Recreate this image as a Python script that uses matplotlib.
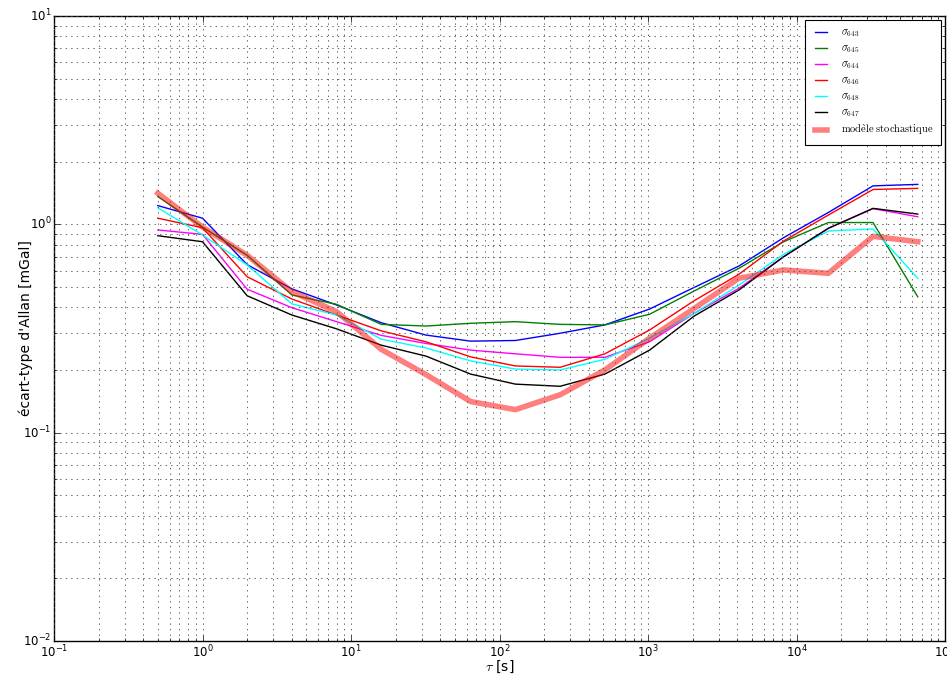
import numpy as np
import matplotlib
matplotlib.use("Agg")
import matplotlib.pyplot as plt

plt.style.use('classic')
plt.rcParams['mathtext.fontset'] = 'cm'

tau = [0.5, 1, 2, 4, 8, 16, 32, 64, 128, 256, 512, 1024, 2048, 4096, 8192, 16384, 32768, 65536]

s643 = [1.23, 1.07, 0.64, 0.49, 0.41, 0.337, 0.294, 0.275, 0.277, 0.300, 0.329, 0.392, 0.498, 0.631, 0.863, 1.14, 1.53, 1.555]
s645 = [1.36, 0.97, 0.71, 0.458, 0.413, 0.331, 0.325, 0.335, 0.341, 0.331, 0.329, 0.370, 0.479, 0.615, 0.825, 1.02, 1.02, 0.449]
s644 = [0.94, 0.895, 0.488, 0.398, 0.341, 0.293, 0.268, 0.249, 0.239, 0.230, 0.230, 0.273, 0.374, 0.493, 0.699, 0.957, 1.19, 1.087]
s646 = [1.07, 0.963, 0.56, 0.438, 0.367, 0.308, 0.273, 0.231, 0.209, 0.206, 0.239, 0.311, 0.43, 0.576, 0.832, 1.108, 1.47, 1.488]
s648 = [1.20, 0.889, 0.638, 0.415, 0.367, 0.281, 0.255, 0.221, 0.202, 0.200, 0.225, 0.284, 0.374, 0.511, 0.718, 0.929, 0.95, 0.551]
s647 = [0.882, 0.825, 0.454, 0.367, 0.315, 0.263, 0.233, 0.191, 0.171, 0.167, 0.191, 0.249, 0.363, 0.484, 0.699, 0.957, 1.193, 1.12]
model = [1.41, 0.97, 0.71, 0.475, 0.381, 0.251, 0.19, 0.141, 0.129, 0.152, 0.20, 0.284, 0.395, 0.551, 0.604, 0.582, 0.876, 0.825]

series = [
    (s643, '#0000ff', r'$\sigma_{643}$'),
    (s645, '#008000', r'$\sigma_{645}$'),
    (s644, '#ff00ff', r'$\sigma_{644}$'),
    (s646, '#ff0000', r'$\sigma_{646}$'),
    (s648, '#00ffff', r'$\sigma_{648}$'),
    (s647, '#000000', r'$\sigma_{647}$'),
]
model_label = r'$\mathrm{mod\grave{e}le\ stochastique}$'

fig = plt.figure(figsize=(9.47, 6.75), dpi=100, facecolor='white')
ax = fig.add_axes([54/947, 1-641/675, (945-54)/947, (641-16)/675])

for vals, c, lab in series:
    ax.plot(tau, vals, color=c, lw=1, label=lab)
ax.plot(tau, model, color='r', alpha=0.5, lw=4, label=model_label)

ax.set_xscale('log')
ax.set_yscale('log')
ax.set_xlim(0.1, 1e5)
ax.set_ylim(0.01, 10)
ax.grid(True, which='both', linestyle=':', color='0.3', linewidth=0.6)
ax.tick_params(which='both', labelsize=8.5, pad=2)
ax.set_xlabel(r'$\tau$ [s]', fontsize=10)
ax.set_ylabel("écart-type d'Allan [mGal]", fontsize=10)
ax.xaxis.set_label_coords(0.5, -0.029)
ax.yaxis.set_label_coords(-0.024, 0.5)

leg = ax.legend(loc='upper right', prop={'size': 7.5},
                fancybox=False, borderaxespad=0.4, handlelength=1.7,
                handletextpad=1.1, labelspacing=0.4, borderpad=0.7)
leg.get_frame().set_linewidth(0.8)

fig.savefig('out.png', dpi=100, facecolor='white')
